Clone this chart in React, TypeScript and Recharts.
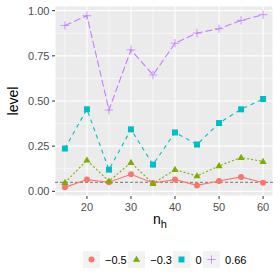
import React from 'react';
import { ComposedChart, Line, XAxis, YAxis, CartesianGrid, ReferenceLine, Legend } from 'recharts';

const nh = [15, 20, 25, 30, 35, 40, 45, 50, 55, 60];
const levelNeg05 = [0.022, 0.065, 0.05, 0.094, 0.046, 0.065, 0.033, 0.057, 0.08, 0.048];
const levelNeg03 = [0.048, 0.172, 0.056, 0.159, 0.043, 0.12, 0.085, 0.141, 0.187, 0.165];
const level0 = [0.237, 0.454, 0.12, 0.343, 0.148, 0.326, 0.259, 0.378, 0.454, 0.511];
const level066 = [0.918, 0.972, 0.45, 0.783, 0.644, 0.82, 0.876, 0.9, 0.946, 0.978];
const seriesNames = ['\u22120.5', '\u22120.3', '0', '0.66'];
const xTicks = [20, 30, 40, 50, 60];
const xMinor = [15, 25, 35, 45, 55];
const yTicks = [0, 0.25, 0.5, 0.75, 1];
const yMinor = [0.125, 0.375, 0.625, 0.875];
const nominal = 0.05;

const data = nh.map((x, i) => ({
  nh: x,
  a: levelNeg05[i],
  b: levelNeg03[i],
  c: level0[i],
  d: level066[i],
}));

const COLORS = ['#F8766D', '#7CAE00', '#00BFC4', '#C77CFF'];
const FONT = '"Liberation Sans", Arial, Helvetica, sans-serif';

const Marker = ({ kind, cx, cy }: { kind: number; cx: number; cy: number }) => {
  const col = COLORS[kind];
  if (kind === 0) return <circle cx={cx} cy={cy} r={3} fill={col} />;
  if (kind === 1) {
    const s = 3.8;
    return <polygon points={`${cx},${cy - s} ${cx - s * 0.95},${cy + s * 0.62} ${cx + s * 0.95},${cy + s * 0.62}`} fill={col} />;
  }
  if (kind === 2) return <rect x={cx - 3} y={cy - 3} width={6} height={6} fill={col} />;
  return (
    <g stroke={col} strokeWidth={0.8}>
      <line x1={cx - 4.2} y1={cy} x2={cx + 4.2} y2={cy} />
      <line x1={cx} y1={cy - 4.2} x2={cx} y2={cy + 4.2} />
    </g>
  );
};

const makeDot = (kind: number) => (p: any) => <Marker key={`m${kind}-${p.index}`} kind={kind} cx={p.cx} cy={p.cy} />;

const XTitle = (props: any) => {
  const vb = props.viewBox || {};
  const cx = vb.x + vb.width / 2;
  return (
    <text x={cx - 4} y={vb.y + 28} textAnchor="middle" fontFamily={FONT} fontSize={14} fill="#000">
      <tspan>n</tspan>
      <tspan dy={4} fontSize={11}>h</tspan>
    </text>
  );
};

const YTitle = (props: any) => {
  const vb = props.viewBox || {};
  const cy = vb.y + vb.height / 2;
  const x = 18;
  return (
    <text x={x} y={cy} transform={`rotate(-90 ${x} ${cy})`} textAnchor="middle" fontFamily={FONT} fontSize={14} fill="#000">
      level
    </text>
  );
};

const LegendContent = () => (
  <div style={{ display: 'flex', alignItems: 'center', fontFamily: FONT, fontSize: 11, color: '#000', paddingLeft: 82.5 }}>
    {seriesNames.map((n, i) => (
      <div key={n} style={{ display: 'flex', alignItems: 'center', marginRight: 1 }}>
        <svg width={17} height={17} style={{ display: 'block' }}>
          <rect x={0} y={0} width={17} height={17} fill="#F2F2F2" />
          <Marker kind={i} cx={8.5} cy={8.5} />
        </svg>
        <span style={{ marginLeft: 5.5, whiteSpace: 'nowrap' }}>{n}</span>
      </div>
    ))}
  </div>
);

export default function App() {
  return (
    <div style={{ position: 'absolute', left: 0, top: 0, width: 280, height: 280, background: '#fff' }}>
      <ComposedChart width={280} height={280} data={data} margin={{ top: 6, right: 7, left: 0, bottom: 54 }}>
        <CartesianGrid fill="#EBEBEB" stroke="#FFFFFF" strokeWidth={1.1} />
        {xMinor.map((v) => (
          <ReferenceLine key={`xm${v}`} x={v} stroke="#FFFFFF" strokeWidth={0.55} />
        ))}
        {yMinor.map((v) => (
          <ReferenceLine key={`ym${v}`} y={v} stroke="#FFFFFF" strokeWidth={0.55} />
        ))}
        <XAxis
          dataKey="nh"
          type="number"
          domain={[12.75, 62.25]}
          ticks={xTicks}
          allowDataOverflow
          height={30}
          axisLine={false}
          tickLine={{ stroke: '#333333' }}
          tickSize={3}
          tickMargin={4}
          tick={{ fill: '#4D4D4D', fontSize: 11, fontFamily: FONT }}
          label={<XTitle />}
        />
        <YAxis
          type="number"
          domain={[-0.0258, 1.0258]}
          ticks={yTicks}
          allowDataOverflow
          width={55}
          axisLine={false}
          tickLine={{ stroke: '#333333' }}
          tickSize={3}
          tickMargin={2.5}
          tickFormatter={(v: number) => v.toFixed(2)}
          tick={{ fill: '#4D4D4D', fontSize: 11, fontFamily: FONT }}
          label={<YTitle />}
        />
        <ReferenceLine y={nominal} stroke="#555555" strokeWidth={0.8} strokeDasharray="3 2" />
        <Line dataKey="a" name={seriesNames[0]} stroke={COLORS[0]} strokeWidth={1.1} dot={makeDot(0)} isAnimationActive={false} />
        <Line dataKey="b" name={seriesNames[1]} stroke={COLORS[1]} strokeWidth={1.1} strokeDasharray="2 2" dot={makeDot(1)} isAnimationActive={false} />
        <Line dataKey="c" name={seriesNames[2]} stroke={COLORS[2]} strokeWidth={1.1} strokeDasharray="4 4" dot={makeDot(2)} isAnimationActive={false} />
        <Line dataKey="d" name={seriesNames[3]} stroke={COLORS[3]} strokeWidth={1.1} strokeDasharray="7 3" dot={makeDot(3)} isAnimationActive={false} />
        <Legend
          layout="horizontal"
          verticalAlign="middle"
          align="center"
          content={<LegendContent />}
          wrapperStyle={{ position: 'absolute', top: 251, left: 0, width: 280, height: 18 }}
        />
      </ComposedChart>
    </div>
  );
}
